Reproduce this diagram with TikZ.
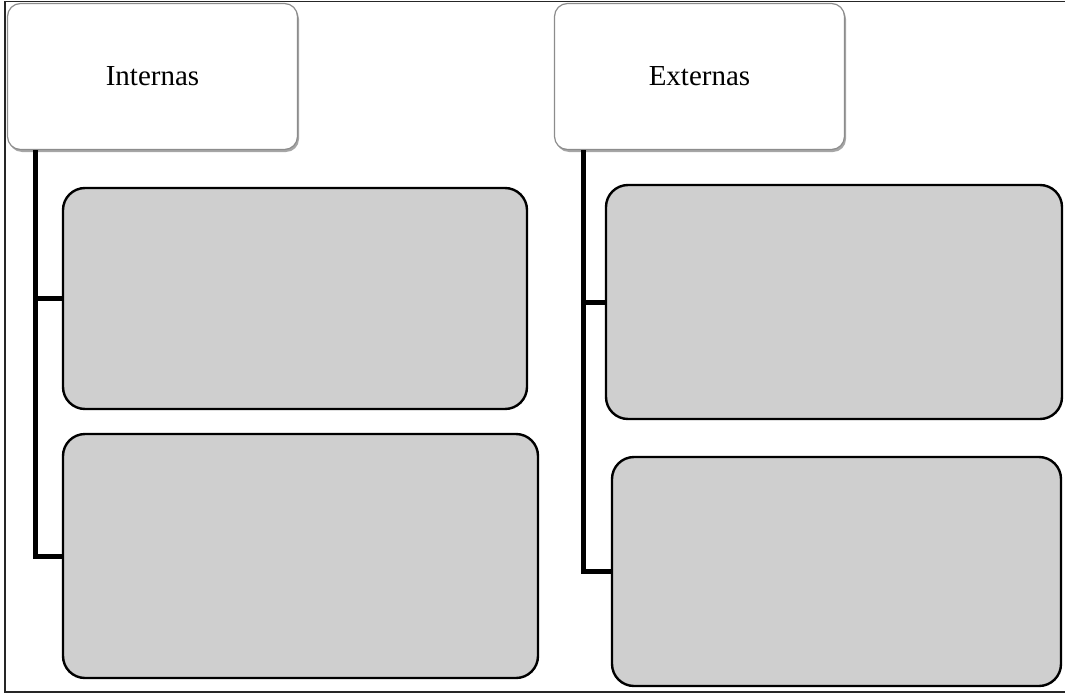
\documentclass[tikz,border=0pt]{standalone}
\usepackage{fontspec}
\setmainfont{Liberation Serif}
\usetikzlibrary{shadows}
\definecolor{boxgray}{HTML}{CFCFCF}
\definecolor{hdrline}{HTML}{8C8C8C}
\tikzset{
  hdr/.style={draw=hdrline, line width=1.2pt, fill=white, rounded corners=13pt,
    minimum width=290pt, minimum height=146pt, inner sep=0pt,
    drop shadow={shadow xshift=1.5pt, shadow yshift=-2.5pt, opacity=0.35, fill=black},
    font=\fontsize{29}{34}\selectfont},
  item/.style={draw=black, line width=2.4pt, fill=boxgray, rounded corners=22pt, inner sep=0pt},
  conn/.style={line width=5pt, line cap=butt, line join=miter},
  frame/.style={line width=1.8pt, draw=black!85}
}
\begin{document}
\begin{tikzpicture}[x=1pt,y=-1pt]
\useasboundingbox (0,0) rectangle (1065,693);
\draw[frame] (1065,1.5) -- (5,1.5) -- (5,692) -- (1065,692);
% headers
\node[hdr] (hI) at (152.5,76.5) {Internas};
\node[hdr] (hE) at (699.5,76.5) {Externas};
% items
\node[item, minimum width=464pt, minimum height=221pt] (b1) at (295,298.5) {};
\node[item, minimum width=475pt, minimum height=244pt] (b2) at (300.5,556) {};
\node[item, minimum width=456pt, minimum height=234pt] (b3) at (834,302) {};
\node[item, minimum width=449pt, minimum height=229pt] (b4) at (836.5,571.5) {};
% connectors
\coordinate (tI) at (35,150);
\coordinate (tE) at (583,150);
\draw[conn] (tI) |- (b2.west);
\draw[conn] (tI |- b1.west) -- (b1.west);
\draw[conn] (tE) |- (b4.west);
\draw[conn] (tE |- b3.west) -- (b3.west);
\end{tikzpicture}
\end{document}
